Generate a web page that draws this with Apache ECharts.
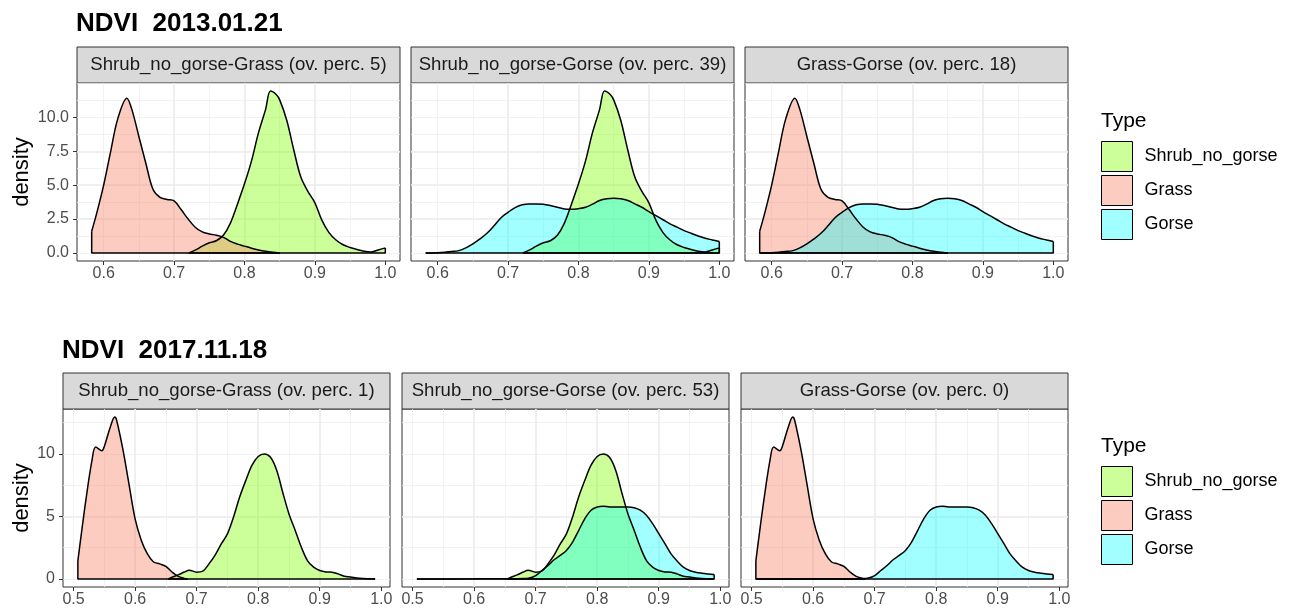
<!DOCTYPE html>
<html>
<head>
<meta charset="utf-8">
<script src="https://cdn.jsdelivr.net/npm/echarts@6/dist/echarts.min.js"></script>
<style>
html, body { margin: 0; padding: 0; background: #fff; }
#chart { width: 1296px; height: 614px; }
</style>
</head>
<body>
<div id="chart"></div>
<script>
var types = ['Shrub_no_gorse', 'Grass', 'Gorse'];
var pairs = [['Shrub_no_gorse', 'Grass'], ['Shrub_no_gorse', 'Gorse'], ['Grass', 'Gorse']];
var dates = ['2013.01.21', '2017.11.18'];
var overlap13 = [5, 39, 18];
var overlap17 = [1, 53, 0];

// NDVI 2013.01.21 densities
var shrub13X = [0.721, 0.73, 0.74, 0.75, 0.76, 0.77, 0.78, 0.79, 0.80, 0.81, 0.82, 0.83, 0.837, 0.845, 0.85, 0.86, 0.87, 0.88, 0.89, 0.90, 0.91, 0.92, 0.93, 0.94, 0.95, 0.96, 0.97, 0.98, 0.99, 1.0];
var shrub13Y = [0, 0.2, 0.5, 0.75, 0.9, 1.3, 2.2, 3.6, 5.1, 6.8, 8.9, 10.6, 11.95, 11.7, 11.3, 9.8, 7.6, 5.6, 4.55, 3.7, 2.4, 1.5, 0.95, 0.6, 0.4, 0.25, 0.12, 0.07, 0.22, 0.37];
var grass13X = [0.583, 0.59, 0.60, 0.61, 0.62, 0.633, 0.64, 0.65, 0.66, 0.67, 0.68, 0.69, 0.70, 0.71, 0.72, 0.73, 0.74, 0.75, 0.76, 0.77, 0.78, 0.79, 0.80, 0.81, 0.82, 0.83, 0.84, 0.85];
var grass13Y = [1.6, 2.9, 5.0, 7.5, 9.9, 11.43, 10.6, 8.6, 6.6, 4.7, 4.1, 3.95, 3.85, 3.2, 2.5, 1.9, 1.55, 1.4, 1.3, 1.15, 0.85, 0.65, 0.5, 0.35, 0.22, 0.12, 0.05, 0];
var gorse13X = [0.583, 0.60, 0.61, 0.62, 0.63, 0.64, 0.65, 0.66, 0.67, 0.68, 0.69, 0.70, 0.71, 0.72, 0.73, 0.74, 0.75, 0.76, 0.77, 0.78, 0.79, 0.80, 0.81, 0.82, 0.83, 0.84, 0.85, 0.86, 0.87, 0.88, 0.89, 0.90, 0.91, 0.92, 0.93, 0.94, 0.95, 0.96, 0.97, 0.98, 0.99, 1.0];
var gorse13Y = [0, 0.02, 0.05, 0.1, 0.17, 0.37, 0.66, 1.03, 1.45, 2.0, 2.6, 3.0, 3.35, 3.55, 3.62, 3.62, 3.6, 3.5, 3.37, 3.25, 3.22, 3.27, 3.37, 3.6, 3.87, 4.0, 4.04, 4.0, 3.87, 3.62, 3.37, 3.05, 2.75, 2.45, 2.15, 1.9, 1.65, 1.45, 1.25, 1.08, 0.96, 0.84];

// NDVI 2017.11.18 densities
var shrub17X = [0.654, 0.66, 0.67, 0.68, 0.688, 0.70, 0.71, 0.72, 0.73, 0.74, 0.75, 0.76, 0.77, 0.78, 0.79, 0.80, 0.81, 0.82, 0.83, 0.84, 0.85, 0.86, 0.87, 0.88, 0.89, 0.90, 0.91, 0.92, 0.93, 0.94, 0.95, 0.96, 0.97, 0.98, 0.99];
var shrub17Y = [0, 0.13, 0.32, 0.55, 0.7, 0.54, 0.62, 1.2, 1.9, 2.8, 3.6, 4.96, 6.57, 7.9, 9.1, 9.8, 10.0, 9.73, 8.7, 6.9, 5.2, 3.9, 2.55, 1.47, 0.94, 0.67, 0.56, 0.54, 0.4, 0.21, 0.16, 0.08, 0.03, 0.01, 0];
var grass17X = [0.507, 0.51, 0.52, 0.53, 0.536, 0.546, 0.55, 0.56, 0.567, 0.57, 0.58, 0.59, 0.60, 0.61, 0.62, 0.63, 0.64, 0.65, 0.66, 0.67, 0.68, 0.685];
var grass17Y = [1.45, 2.6, 6.3, 9.5, 10.55, 10.25, 10.6, 12.2, 12.95, 12.7, 10.4, 7.6, 4.8, 3.1, 2.0, 1.35, 1.2, 1.0, 0.55, 0.2, 0.04, 0];
var gorse17X = [0.507, 0.60, 0.65, 0.68, 0.69, 0.70, 0.71, 0.72, 0.73, 0.74, 0.75, 0.76, 0.77, 0.78, 0.79, 0.80, 0.81, 0.82, 0.83, 0.84, 0.85, 0.86, 0.87, 0.88, 0.89, 0.90, 0.91, 0.92, 0.93, 0.94, 0.95, 0.96, 0.97, 0.98, 0.99];
var gorse17Y = [0, 0.003, 0.01, 0.03, 0.08, 0.27, 0.67, 1.07, 1.53, 1.88, 2.28, 2.95, 3.89, 4.83, 5.5, 5.76, 5.82, 5.76, 5.76, 5.76, 5.76, 5.7, 5.5, 5.1, 4.42, 3.62, 2.82, 2.0, 1.42, 0.94, 0.67, 0.54, 0.46, 0.4, 0.35];

var xTicks13 = [0.6, 0.7, 0.8, 0.9, 1.0];
var yTicks13 = [0, 2.5, 5, 7.5, 10];
var xTicks17 = [0.5, 0.6, 0.7, 0.8, 0.9, 1.0];
var yTicks17 = [0, 5, 10];

var FONT = '"Liberation Sans", Arial, sans-serif';
var fills = { Shrub_no_gorse: 'rgba(127,255,0,0.4)', Grass: 'rgba(250,128,100,0.4)', Gorse: 'rgba(0,255,255,0.37)' };
var keys = { Shrub_no_gorse: '#CCFF99', Grass: '#FCCCC1', Gorse: '#A1FFFF' };

var rows = [
    { date: dates[0], overlap: overlap13, xTicks: xTicks13, yTicks: yTicks13, yDigits: 1,
      curves: { Shrub_no_gorse: [shrub13X, shrub13Y], Grass: [grass13X, grass13Y], Gorse: [gorse13X, gorse13Y] },
      lefts: [77, 411, 745], width: 323, top: 83, titleTop: 11, legendTop: 141, nameGap: 44 },
    { date: dates[1], overlap: overlap17, xTicks: xTicks17, yTicks: yTicks17, yDigits: 0,
      curves: { Shrub_no_gorse: [shrub17X, shrub17Y], Grass: [grass17X, grass17Y], Gorse: [gorse17X, gorse17Y] },
      lefts: [63, 402, 741], width: 327, top: 409, titleTop: 338, legendTop: 466, nameGap: 30 }
];

var option = {
    animation: false,
    textStyle: { fontFamily: FONT },
    title: [], legend: [], grid: [], xAxis: [], yAxis: [], series: [], graphic: []
};

rows.forEach(function (row) {
    var allX = [], allY = [];
    types.forEach(function (t) {
        allX = allX.concat(row.curves[t][0]);
        allY = allY.concat(row.curves[t][1]);
    });
    // ggplot-style 5% expansion
    var x0 = Math.min.apply(null, allX), x1 = Math.max.apply(null, allX);
    var yTop = Math.max.apply(null, allY);
    var xMin = x0 - (x1 - x0) * 0.05, xMax = x1 + (x1 - x0) * 0.05;
    var yMin = -yTop * 0.05, yMax = yTop * 1.05;
    var xStep = row.xTicks[1] - row.xTicks[0];
    var yStep = row.yTicks[1] - row.yTicks[0];

    option.title.push({
        text: 'NDVI  ' + row.date, left: row.lefts[0] - 1, top: row.titleTop, padding: 0,
        textStyle: { fontSize: 26, fontWeight: 'bold', color: '#000', fontFamily: FONT }
    });
    option.title.push({
        text: 'Type', left: 1101, top: row.legendTop - 30, padding: 0,
        textStyle: { fontSize: 21, fontWeight: 'normal', color: '#000', fontFamily: FONT }
    });
    option.legend.push({
        orient: 'vertical', left: 1101, top: row.legendTop, padding: 0,
        itemWidth: 31, itemHeight: 30, itemGap: 3, icon: 'rect', selectedMode: false,
        data: types.map(function (t) {
            return { name: t, itemStyle: { color: keys[t], borderColor: '#000', borderWidth: 1 } };
        }),
        textStyle: { fontSize: 18, color: '#000', fontFamily: FONT, padding: [0, 0, 0, 7] }
    });

    row.lefts.forEach(function (left, c) {
        var g = option.grid.length;
        option.grid.push({
            left: left, top: row.top, width: row.width, height: 178,
            show: true, backgroundColor: '#fff', borderColor: '#333', borderWidth: 1
        });
        option.graphic.push({
            type: 'rect', shape: { x: left, y: row.top - 36, width: row.width, height: 36 },
            style: { fill: '#D9D9D9', stroke: '#333', lineWidth: 1 }
        });
        option.graphic.push({
            type: 'text', x: left + row.width / 2, y: row.top - 18,
            style: {
                text: pairs[c][0] + '-' + pairs[c][1] + ' (ov. perc. ' + row.overlap[c] + ')',
                font: '18.6px ' + FONT, fill: '#1A1A1A',
                align: 'center', verticalAlign: 'middle', textAlign: 'center', textVerticalAlign: 'middle'
            }
        });

        // major axes
        option.xAxis.push({
            type: 'value', gridIndex: g, position: 'bottom', min: xMin, max: xMax,
            minInterval: xStep, maxInterval: xStep,
            axisLine: { show: false, onZero: false },
            axisTick: { show: true, length: 4, customValues: row.xTicks, lineStyle: { color: '#333', width: 1 } },
            axisLabel: { show: true, customValues: row.xTicks, color: '#4D4D4D', fontSize: 16, margin: 5,
                formatter: function (v) { return v.toFixed(1); } },
            splitLine: { show: true, showMinLine: false, showMaxLine: false, lineStyle: { color: '#EBEBEB', width: 1.6 } }
        });
        option.yAxis.push({
            type: 'value', gridIndex: g, position: 'left', min: yMin, max: yMax,
            minInterval: yStep, maxInterval: yStep,
            name: c === 0 ? 'density' : '', nameLocation: 'middle', nameGap: row.nameGap,
            nameTextStyle: { fontSize: 22, color: '#000', fontFamily: FONT },
            axisLine: { show: false, onZero: false },
            axisTick: { show: c === 0, length: 4, customValues: row.yTicks, lineStyle: { color: '#333', width: 1 } },
            axisLabel: { show: c === 0, customValues: row.yTicks, color: '#4D4D4D', fontSize: 16, margin: 8,
                formatter: function (v) { return v.toFixed(row.yDigits); } },
            splitLine: { show: true, showMinLine: false, showMaxLine: false, lineStyle: { color: '#EBEBEB', width: 1.6 } }
        });
        // minor grid axes
        option.xAxis.push({
            type: 'value', gridIndex: g, position: 'bottom', min: xMin, max: xMax,
            minInterval: xStep / 2, maxInterval: xStep / 2,
            axisLine: { show: false, onZero: false }, axisTick: { show: false }, axisLabel: { show: false },
            splitLine: { show: true, showMinLine: false, showMaxLine: false, lineStyle: { color: '#EFEFEF', width: 0.8 } }
        });
        option.yAxis.push({
            type: 'value', gridIndex: g, position: 'left', min: yMin, max: yMax,
            minInterval: yStep / 2, maxInterval: yStep / 2,
            axisLine: { show: false, onZero: false }, axisTick: { show: false }, axisLabel: { show: false },
            splitLine: { show: true, showMinLine: false, showMaxLine: false, lineStyle: { color: '#EFEFEF', width: 0.8 } }
        });

        pairs[c].forEach(function (t) {
            var xs = row.curves[t][0], ys = row.curves[t][1];
            var n = xs.length - 1;
            option.series.push({
                type: 'line', name: t, xAxisIndex: 2 * g, yAxisIndex: 2 * g,
                data: xs.map(function (x, i) { return [x, ys[i]]; }),
                smooth: 0.35, symbol: 'none', silent: true,
                itemStyle: { color: keys[t] },
                lineStyle: { color: '#000', width: 1.5 },
                areaStyle: { color: fills[t], opacity: 1 }
            });
            // closing edges of the density polygon
            option.series.push({
                type: 'line', name: t, xAxisIndex: 2 * g, yAxisIndex: 2 * g,
                data: [[xs[0], ys[0]], [xs[0], 0], [xs[n], 0], [xs[n], ys[n]]],
                symbol: 'none', silent: true,
                itemStyle: { color: keys[t] },
                lineStyle: { color: '#000', width: 1.5 }
            });
        });
    });
});

var chart = echarts.init(document.getElementById('chart'));
chart.setOption(option);
</script>
</body>
</html>
